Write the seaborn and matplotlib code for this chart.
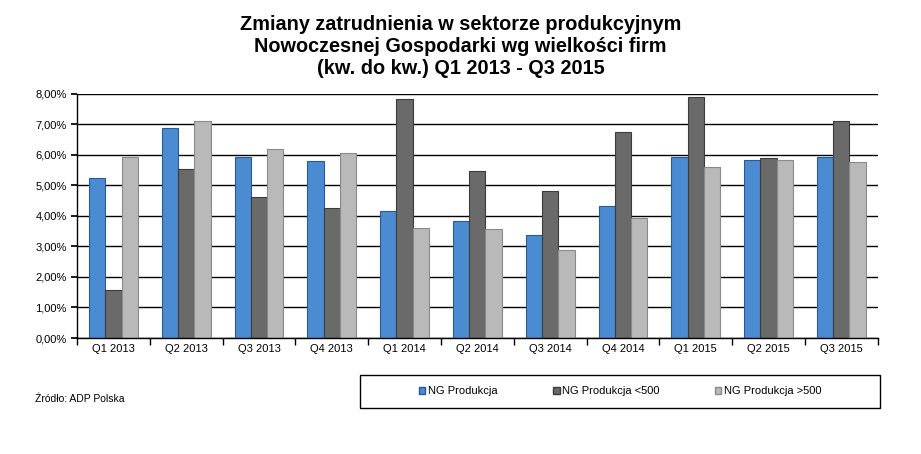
import matplotlib
matplotlib.use("Agg")
import matplotlib.pyplot as plt
import seaborn as sns
import pandas as pd
import numpy as np
from matplotlib.ticker import FuncFormatter, MultipleLocator, FixedLocator
from matplotlib.patches import Patch, Rectangle

quarters = ["Q1 2013", "Q2 2013", "Q3 2013", "Q4 2013", "Q1 2014", "Q2 2014",
            "Q3 2014", "Q4 2014", "Q1 2015", "Q2 2015", "Q3 2015"]
ng_prod = [5.26, 6.87, 5.94, 5.79, 4.17, 3.84, 3.38, 4.33, 5.92, 5.85, 5.95]
ng_small = [1.56, 5.53, 4.61, 4.26, 7.82, 5.46, 4.83, 6.74, 7.90, 5.89, 7.10]
ng_large = [5.92, 7.10, 6.18, 6.05, 3.60, 3.57, 2.88, 3.93, 5.60, 5.82, 5.78]
series = ["NG Produkcja", "NG Produkcja <500", "NG Produkcja >500"]
colors = ["#4b8bd2", "#6a6a6a", "#b9b9b9"]
edges = ["#2a5a90", "#3c3c3c", "#8a8a8a"]

df = pd.DataFrame({
    "Kwartał": quarters * 3,
    "Wartość": ng_prod + ng_small + ng_large,
    "Seria": [series[0]] * 11 + [series[1]] * 11 + [series[2]] * 11,
})

sns.set_theme(style="white")
plt.rcParams["font.family"] = ["Liberation Sans", "DejaVu Sans"]
plt.rcParams["text.color"] = "black"
plt.rcParams["xtick.color"] = "black"
plt.rcParams["ytick.color"] = "black"

fig = plt.figure(figsize=(9.21, 4.54), dpi=100)
ax = fig.add_axes([0.0836, 0.2555, 0.8694, 0.5375])

sns.barplot(data=df, x="Kwartał", y="Wartość", hue="Seria", palette=colors,
            width=0.67, ax=ax, legend=False, saturation=1)

for i, cont in enumerate(ax.containers):
    for bar in cont:
        bar.set_edgecolor(edges[i])
        bar.set_linewidth(0.8)

ax.set_ylim(0, 8)
ax.set_xlim(-0.5, 10.5)
ax.yaxis.set_major_locator(MultipleLocator(1))
ax.yaxis.set_major_formatter(FuncFormatter(lambda v, p: f"{v:.2f}%".replace(".", ",")))
ax.grid(axis="y", color="black", linewidth=1)
ax.set_axisbelow(True)
ax.set_xlabel("")
ax.set_ylabel("")
for s in ["top", "right"]:
    ax.spines[s].set_visible(False)
for s in ["left", "bottom"]:
    ax.spines[s].set_color("black")
    ax.spines[s].set_linewidth(1)

ax.tick_params(axis="y", which="major", length=4, color="black", labelsize=8, direction="out", left=True)
ax.tick_params(axis="x", which="major", length=0, labelsize=8, pad=4)
ax.xaxis.set_minor_locator(FixedLocator(np.arange(-0.5, 11, 1)))
ax.tick_params(axis="x", which="minor", length=5, color="black", direction="out", bottom=True)

fig.text(0.50, 0.966, "Zmiany zatrudnienia w sektorze produkcyjnym\nNowoczesnej Gospodarki wg wielkości firm\n(kw. do kw.) Q1 2013 - Q3 2015",
         ha="center", va="top", fontsize=14.3, fontweight="bold", linespacing=1.2, color="black")

fig.text(0.038, 0.122, "Źródło: ADP Polska", fontsize=7.5, ha="left", va="center", color="black")

fig.patches.append(Rectangle((360 / 921, 1 - 408 / 454), 520 / 921, 33 / 454,
                             transform=fig.transFigure, fill=False, edgecolor="black", linewidth=1))
handles = [Patch(facecolor=colors[i], edgecolor=edges[i], label=series[i]) for i in range(3)]
fig.legend(handles=handles, loc="center", bbox_to_anchor=(620 / 921, 1 - 391 / 454), ncol=3,
           frameon=False, fontsize=8, handlelength=0.6, handleheight=0.6, handletextpad=0.2,
           columnspacing=5, labelcolor="black")

fig.savefig("out.png", dpi=100)
